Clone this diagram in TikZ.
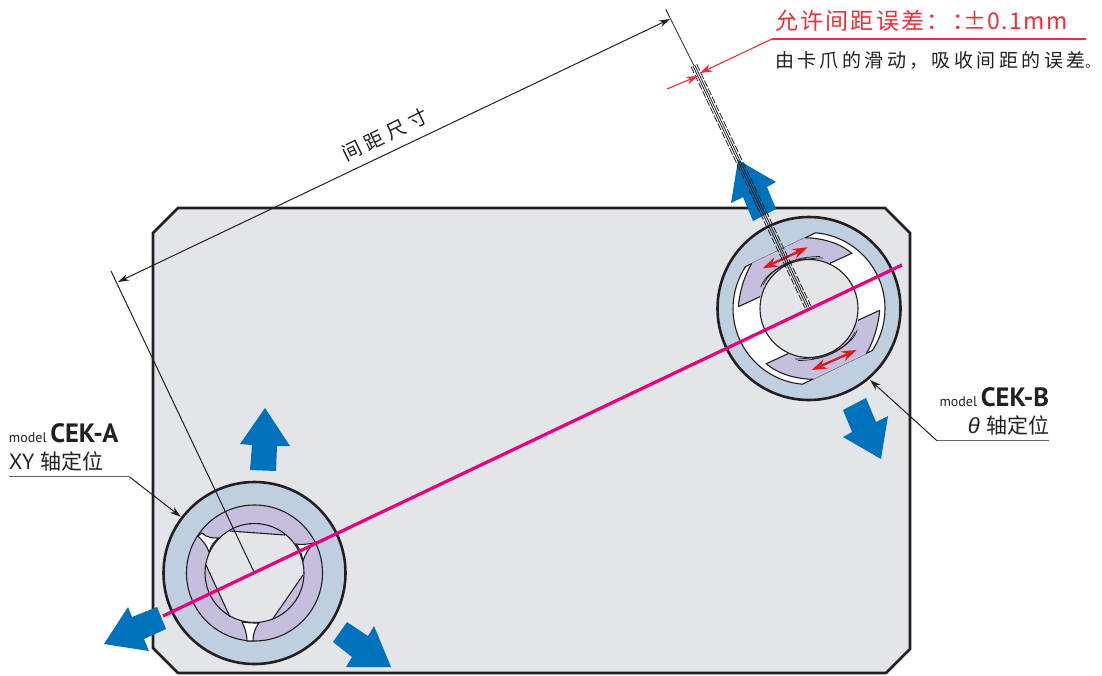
\documentclass[tikz,border=0pt]{standalone}
\usepackage{fontspec}
\usetikzlibrary{arrows.meta,calc}
\newfontfamily\cjk{Noto Sans CJK SC}
\newfontfamily\latinb{PT Sans}
\newfontfamily\latint{Liberation Sans}
\definecolor{plate}{HTML}{E3E5E8}
\definecolor{ringblue}{HTML}{BFCFE0}
\definecolor{padpurple}{HTML}{C5BEDD}
\definecolor{arrowblue}{HTML}{0071BC}
\definecolor{pinkline}{HTML}{E6007E}
\definecolor{redtxt}{HTML}{EE2E3A}
\definecolor{ink}{HTML}{231F20}
\tikzset{
  thin line/.style={draw=ink,line width=1pt},
  axis line/.style={draw=ink,line width=0.8pt},
  ring/.style={draw=ink,line width=2.6pt,fill=ringblue},
  fine/.style={draw=ink,line width=1.1pt},
  move/.style={fill=arrowblue,draw=none},
  leader/.style={draw=ink,line width=1pt,-{Stealth[length=11pt,width=7pt]}},
  shelf/.style={draw=black!60,line width=1.3pt},
  label/.style={inner sep=0pt,outer sep=0pt,text=ink},
  redarrow/.style={draw=red!85!black!90!white,line width=2.2pt,{Stealth[length=15pt,width=10pt]}-{Stealth[length=15pt,width=10pt]}},
  reddim/.style={draw=redtxt,line width=1.1pt,-{Stealth[length=12pt,width=8pt]}}
}
\begin{document}
\begin{tikzpicture}[x=1pt,y=-1pt]
\useasboundingbox (0,0) rectangle (1102,675);
% plate
\draw[draw=ink,line width=2.6pt,fill=plate,line join=miter] (178,208) -- (885,208) -- (910,233) -- (910,649) -- (886,673) -- (178,673) -- (153,648) -- (153,233) -- cycle;
% blue movement arrows
\fill[move] (265,408) -- (290,446) -- (277,446) -- (276,471) -- (250,470) -- (252,445) -- (240,444) -- cycle;
\fill[move] (104,644) -- (128,607) -- (132,617) -- (157,607) -- (166,629) -- (144,639) -- (149,651) -- cycle;
\fill[move] (347,622) -- (368,636) -- (374,626) -- (391,667) -- (346,667) -- (352,657) -- (333,642) -- cycle;
\fill[move] (738,160) -- (776,182) -- (767,187) -- (776,209) -- (753,221) -- (743,197) -- (731,203) -- cycle;
\fill[move] (881,459) -- (843,437) -- (852,432) -- (843,410) -- (866,398) -- (876,422) -- (888,416) -- cycle;
% === CEK-A ===
\coordinate (ca) at (254.5,573);
\draw[ring] (ca) circle[radius=91pt];
\draw[fine,fill=padpurple] (ca) circle[radius=68pt];
\fill[plate] (230,531) -- (285,535) arc[start angle=51,end angle=-2.4,radius=49.5pt] -- (272,620) arc[start angle=-69.6,end angle=-119,radius=49.5pt] -- (206,565) arc[start angle=-189.4,end angle=-240,radius=49.5pt] -- cycle;
\draw[fine,fill=white] (198,536) -- (202,533) .. controls (207,538) and (213,538) .. (219,538) .. controls (214,541) and (211,546) .. (209,552) .. controls (207,546) and (203,541) .. (198,536) -- cycle;
\draw[fine,fill=white] (296,544) .. controls (302,545) and (308,544) .. (314,543) .. controls (309,548) and (305,554) .. (303,561) .. controls (302,555) and (300,549) .. (296,544) -- cycle;
\draw[fine,fill=white] (242,622) .. controls (248,623) and (254,623) .. (259,623) .. controls (255,628) and (253,634) .. (253,641) -- (247,641) .. controls (247,634) and (245,628) .. (242,622) -- cycle;
\draw[fine] (ca) circle[radius=49.5pt];
\draw[fine] (230,531) -- (285,535);
\draw[fine] (303,575) -- (272,620);
\draw[fine] (206,565) -- (230,617);
% === CEK-B ===
\coordinate (cb) at (809,308.5);
\draw[ring] (cb) circle[radius=91.5pt];
\path[fill=white,draw=ink,line width=1.1pt] (745.6,266.6) -- (815.6,232.8)
   arc[start angle=85,end angle=-33.5,radius=76pt]
   -- (802.4,384.2)
   arc[start angle=265,end angle=146.5,radius=76pt] -- cycle;
\foreach \r in {0,180}{
\begin{scope}[rotate around={\r:(cb)}]
  \path[fill=padpurple] (738.3,306.7) .. controls (740,290) and (744,277) .. (751.7,263.3) -- (805,237.7) .. controls (822,238) and (840,243) .. (851.7,253.3) -- (830,263.3) -- (809,300) -- (760,296.7) -- cycle;
  \draw[fine] (738.3,306.7) .. controls (740,290) and (744,277) .. (751.7,263.3);
  \draw[fine] (805,237.7) .. controls (822,238) and (840,243) .. (851.7,253.3) -- (830,263.3);
  \draw[fine] (738.3,306.7) -- (760,296.7);
\end{scope}}
\draw[fine,fill=plate] (cb) circle[radius=49pt];
\foreach \r in {0,180}{
\begin{scope}[rotate around={\r:(cb)}]
  \draw[line width=0.7pt,draw=ink] (760.7,287.3) .. controls (766,270) and (793,258) .. (823,258);
  \draw[line width=0.7pt,draw=ink] (763,285) .. controls (772,266) and (795,256.5) .. (820,256.5);
  \draw[line width=0.7pt,draw=ink] (766,279) .. controls (775,268) and (790,260) .. (806,258.5);
\end{scope}}
\draw[redarrow] (762.7,268.3) -- (807.7,247.3);
\draw[redarrow] (811.7,370) -- (856.7,350);
% dimension lines
\coordinate (extA) at (111,271);
\coordinate (extB) at (665.7,9.3);
\coordinate (fork) at (693.9,65.5);
\draw[thin line] (extA) -- (ca);
\draw[axis line] (extB) -- (fork);
\draw[axis line] (693,65.9) -- (807.1,307.4);
\draw[axis line] (694.8,65.1) -- (808.9,306.6);
\draw[axis line,dash pattern=on 7pt off 2pt] (691.1,66.8) -- (805.2,308.3);
\draw[axis line,dash pattern=on 7pt off 2pt] (696.7,64.2) -- (810.8,305.7);
\coordinate (dimA) at (118,282);
\coordinate (dimB) at (670,19);
\draw[draw=ink,line width=1pt,{Stealth[length=11pt,width=7pt]}-{Stealth[length=11pt,width=7pt]}] (dimA) -- (dimB);
\node[label,rotate=26] (gap) at (385,135) {\fontsize{19.5}{19.5}\selectfont\cjk\addfontfeature{LetterSpace=25}间距尺寸};
% pink centre line
\draw[draw=pinkline,line width=3.2pt] (163,616) -- (902,265);
% tolerance
\coordinate (redS) at (667,89);
\coordinate (redT) at (698,76);
\coordinate (redK) at (772,39);
\coordinate (redU) at (700,73);
\coordinate (redE) at (1086,39);
\draw[reddim] (redS) -- (redT);
\draw[reddim] (redK) -- (redU);
\draw[draw=redtxt,line width=1.1pt] (redK) -- (redE);
\node[label,anchor=base west,text=redtxt] (tol) at (775,29) {\fontsize{23}{23}\selectfont\cjk\addfontfeature{LetterSpace=10}允许间距误差：：\hspace*{-12pt}{\addfontfeature{LetterSpace=6}±0.1mm}};
\node[label,anchor=base west] (abs) at (775,67) {\fontsize{19}{19}\selectfont\cjk\addfontfeature{LetterSpace=18}由卡爪的滑动，吸收间距的误差{\fontsize{13}{13}\selectfont\addfontfeature{LetterSpace=0}。}};
% model labels
\node[label,anchor=base west] (a1) at (9,442.7) {\latinb\fontsize{14}{14}\selectfont model \fontsize{26.5}{26.5}\selectfont\bfseries CEK-A};
\node[label,anchor=base west] (a2) at (9,469) {\latinb\fontsize{22}{22}\selectfont XY \cjk\fontsize{21}{21}\selectfont 轴定位};
\coordinate (as) at (9,476.7);
\coordinate (ak) at (129.3,476.7);
\coordinate (at) at (180.7,516.7);
\draw[shelf] (as) -- (ak);
\draw[leader] (ak) -- (at);
\node[label,anchor=base east] (b1) at (1049,406) {\latinb\fontsize{14}{14}\selectfont model \fontsize{26.5}{26.5}\selectfont\bfseries CEK-B};
\node[label,anchor=base east] (b2) at (1049,433) {\latint\fontsize{22}{22}\selectfont\itshape θ \upshape\cjk\fontsize{21}{21}\selectfont 轴定位};
\coordinate (bs) at (1049,440.7);
\coordinate (bk) at (937,440.7);
\coordinate (bt) at (870,380);
\draw[shelf] (bs) -- (bk);
\draw[leader] (bk) -- (bt);
\end{tikzpicture}
\end{document}
